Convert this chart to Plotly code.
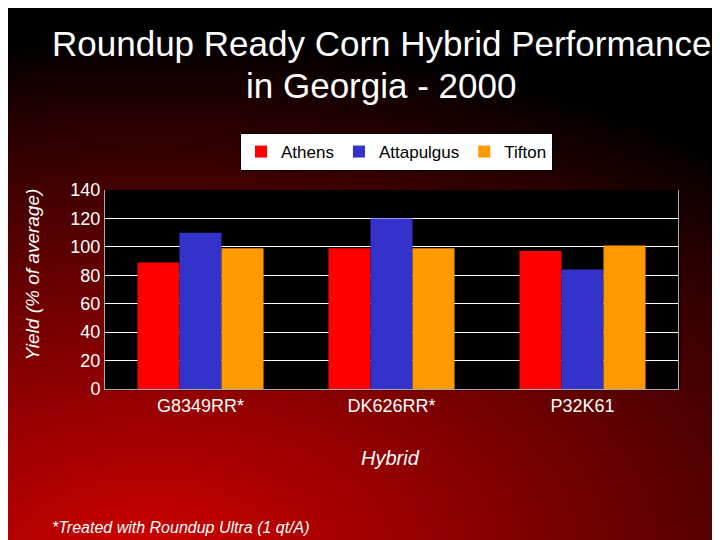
import plotly.graph_objects as go
import numpy as np

hybrids = ["G8349RR*", "DK626RR*", "P32K61"]
athens = [89, 99, 97]
attapulgus = [110, 120, 84]
tifton = [99, 99, 101]
yticks = [0, 20, 40, 60, 80, 100, 120, 140]

OFF = 8  # page body margin
W, H = 720 - OFF, 540 - OFF
px0, px1, py0, py1 = 105 - OFF, 678 - OFF, 190 - OFF, 389 - OFF

# background gradient (style only)
nx, ny = 180, 135
xs = np.linspace(-5, W + 5, nx)
ys = np.linspace(-5, H + 5, ny)
X, Y = np.meshgrid(xs, ys)
d = np.sqrt(((X - 140) / 900) ** 2 + ((Y - 550) / 520) ** 2)
Z = np.clip(1 - d, 0, 1) ** 0.9
inside = (X >= px0) & (X <= px1) & (Y >= py0) & (Y <= py1)
Z = np.where(inside, -0.001, Z)

fig = go.Figure()
fig.add_trace(go.Heatmap(x=xs, y=ys, z=Z, zmin=0, zmax=1, zsmooth="best",
                         colorscale=[[0, "#000000"], [1, "#d00000"]],
                         showscale=False, hoverinfo="skip", xaxis="x", yaxis="y"))
for name, vals, col in [("Athens", athens, "#ff0000"), ("Attapulgus", attapulgus, "#3333cc"),
                        ("Tifton", tifton, "#ff9900")]:
    fig.add_trace(go.Bar(x=hybrids, y=vals, name=name, marker_color=col,
                         marker_line_width=0, xaxis="x2", yaxis="y2"))

font = "Arial, Liberation Sans, sans-serif"

def py(v):
    return 1 - (v - OFF) / H

def pxx(v):
    return (v - OFF) / W

fig.update_layout(
    width=W, height=H, margin=dict(l=0, r=0, t=0, b=0, autoexpand=False),
    paper_bgcolor="black", plot_bgcolor="black",
    barmode="group", bargap=0.34, bargroupgap=0,
    font=dict(family=font, color="white", size=18),
    xaxis=dict(domain=[0, 1], range=[0, W], visible=False, fixedrange=True),
    yaxis=dict(domain=[0, 1], range=[H, 0], visible=False, fixedrange=True),
    xaxis2=dict(domain=[px0 / W, px1 / W], anchor="y2", showgrid=False, automargin=False,
                tickfont=dict(size=18, color="white"), ticks="", ticklen=0,
                showline=True, linecolor="#aaaaaa"),
    yaxis2=dict(domain=[1 - py1 / H, 1 - py0 / H], anchor="x2", range=[0, 140], automargin=False,
                tickvals=yticks, gridcolor="white", gridwidth=1,
                tickfont=dict(size=18, color="white"),
                showline=True, linecolor="#aaaaaa", mirror=True, zeroline=False),
    legend=dict(orientation="h", x=pxx(240), xanchor="left", y=py(133), yanchor="top",
                bgcolor="white", bordercolor="black", borderwidth=1,
                font=dict(size=17, color="black"), itemwidth=30, tracegroupgap=0),
    annotations=[
        dict(text="Roundup Ready Corn Hybrid Performance", xref="paper", yref="paper",
             x=pxx(382), y=py(22), showarrow=False, font=dict(size=35, color="white")),
        dict(text="in Georgia - 2000", xref="paper", yref="paper",
             x=pxx(381), y=py(64), showarrow=False, font=dict(size=35, color="white")),
        dict(text="<i>*Treated with Roundup Ultra (1 qt/A)</i>", xref="paper", yref="paper",
             x=pxx(50), y=py(527), xanchor="left", yanchor="middle", showarrow=False,
             font=dict(size=16, color="white")),
        dict(text="<i>Hybrid</i>", xref="paper", yref="paper", x=pxx(390), y=py(471),
             showarrow=False, font=dict(size=20, color="white")),
        dict(text="<i>Yield (% of average)</i>", xref="paper", yref="paper", x=pxx(19),
             y=py(275), textangle=-90, showarrow=False, font=dict(size=19, color="white")),
    ],
)
fig.write_html("out.html")
